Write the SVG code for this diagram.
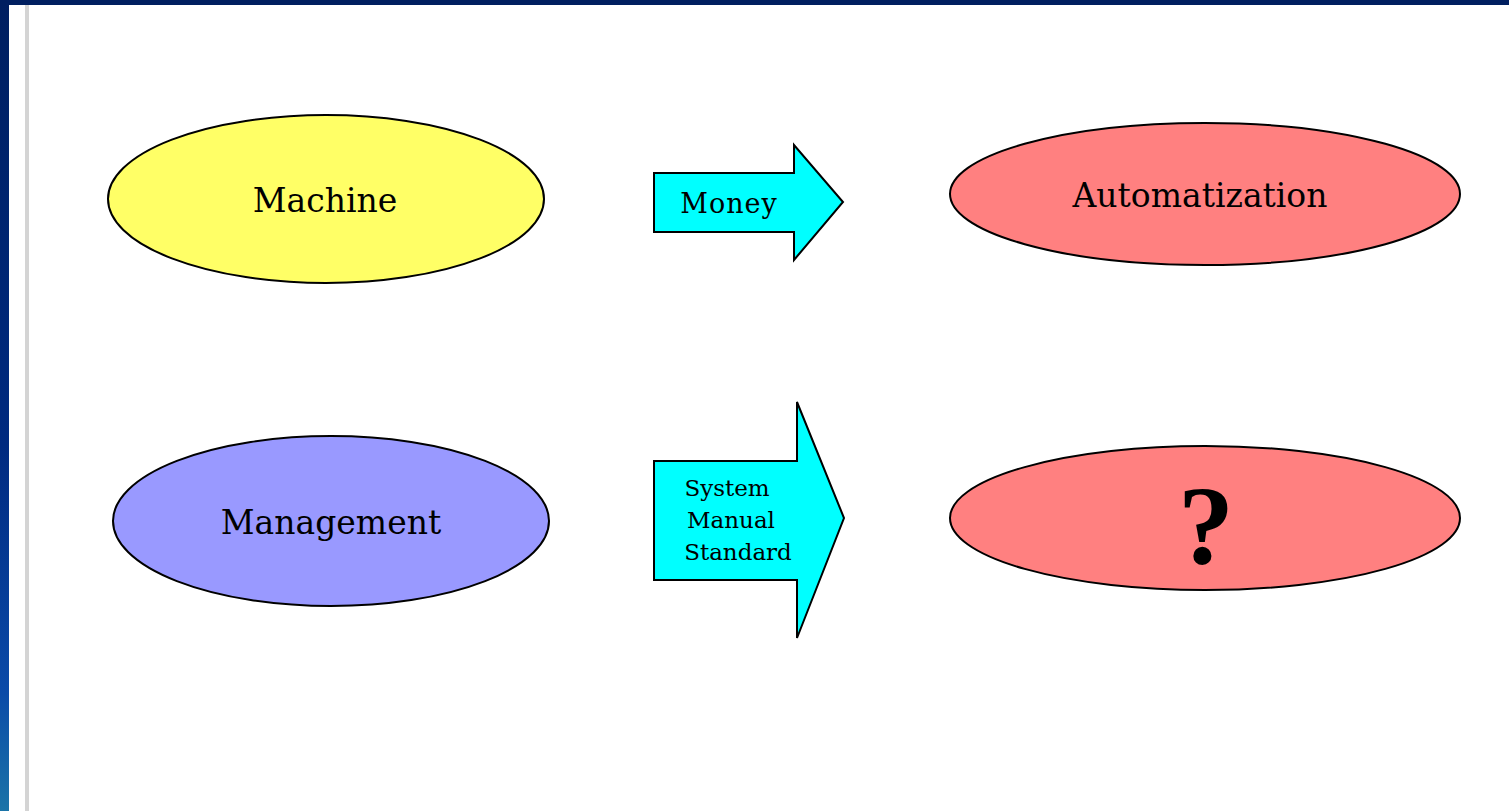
<svg xmlns="http://www.w3.org/2000/svg" width="1509" height="811" viewBox="0 0 1509 811">
<defs>
<linearGradient id="sideGrad" x1="0" y1="0" x2="0" y2="1">
<stop offset="0" stop-color="#001f60"/>
<stop offset="0.55" stop-color="#002a80"/>
<stop offset="0.85" stop-color="#0a4aa8"/>
<stop offset="1" stop-color="#1b74a8"/>
</linearGradient>
<style>
.shape{stroke:#000;stroke-width:2}
.lbl{font-family:"DejaVu Serif","Liberation Serif",serif;fill:#000;text-anchor:middle}
.big{font-size:33px}
.arr{font-size:23px}
</style>
</defs>
<rect x="0" y="0" width="1509" height="811" fill="#fff"/>
<rect x="0" y="0" width="1509" height="5" fill="#001f60"/>
<rect x="0" y="0" width="9" height="811" fill="url(#sideGrad)"/>
<rect x="25" y="5" width="4" height="806" fill="#d4d4d4"/>

<g id="machine">
<ellipse class="shape" cx="326" cy="199" rx="218" ry="84" fill="#ffff66"/>
<text class="lbl big" x="325" y="212">Machine</text>
</g>
<g id="automatization">
<ellipse class="shape" cx="1205" cy="194" rx="255" ry="71" fill="#ff8080"/>
<text class="lbl big" x="1200" y="207">Automatization</text>
</g>
<g id="management">
<ellipse class="shape" cx="331" cy="521" rx="218" ry="85" fill="#9999ff"/>
<text class="lbl big" x="331" y="534">Management</text>
</g>
<g id="unknown">
<ellipse class="shape" cx="1205" cy="518" rx="255" ry="72" fill="#ff8080"/>
<text x="1206" y="563" style="font-family:'Liberation Serif',serif;font-weight:bold;font-size:112px;text-anchor:middle;fill:#000">?</text>
</g>

<g id="connectors">
<g id="money-arrow">
<polygon class="shape" fill="#00ffff" points="654,173 794,173 794,145 843,202 794,260 794,232 654,232"/>
<text class="lbl" x="729" y="213" style="font-size:27px;letter-spacing:1px">Money</text>
</g>
<g id="system-arrow">
<polygon class="shape" fill="#00ffff" points="654,461 797,461 797,402 844,518 797,638 797,580 654,580"/>
<text class="lbl arr" x="727" y="496">System</text>
<text class="lbl arr" x="731" y="528">Manual</text>
<text class="lbl arr" x="738" y="560">Standard</text>
</g>
</g>
</svg>
